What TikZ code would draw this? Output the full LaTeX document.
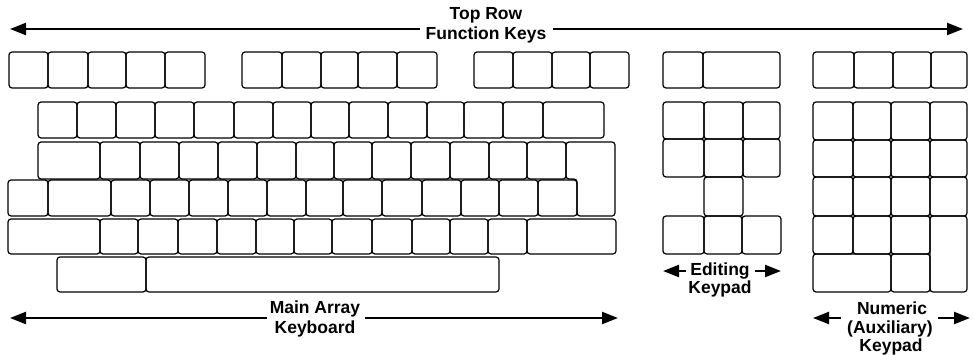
\documentclass[tikz,border=0pt]{standalone}
\usepackage{fontspec}
\setmainfont{Liberation Sans}
\usetikzlibrary{arrows.meta}
\tikzset{
  key/.style={draw, line width=1.2pt, rounded corners=3pt},
  lbl/.style={font=\bfseries\fontsize{17.5}{20}\selectfont, anchor=base, inner sep=0pt},
  arr/.style={line width=2.2pt, -{Triangle[length=16pt,width=12pt]}}
}
\begin{document}
\begin{tikzpicture}[x=1pt,y=-1pt]
\useasboundingbox (0,0) rectangle (973,355);
% ---------- top row function keys ----------
\foreach \a/\b in {9/48,48/88,88/126,126/165,165/205,
                   242/282,282/321,321/358,358/397,397/437,
                   474/513,513/552,552/590,590/629,
                   663/703,703/780,
                   813/854,854/893,893/931,931/967}
  \draw[key] (\a,52) rectangle (\b,88);
% ---------- main array ----------
\foreach \a/\b in {38/77,77/116,116/155,155/194,194/234,234/273,273/311,311/349,349/388,388/427,427/464,464/503,503/543,543/604}
  \draw[key] (\a,102) rectangle (\b,138);
\foreach \a/\b in {38/100,100/140,140/179,179/218,218/257,257/296,296/334,334/372,372/411,411/450,450/489,489/527,527/566}
  \draw[key] (\a,142) rectangle (\b,179);
\draw[key] (566,142) -- (615,142) -- (615,216) -- (577,216) -- (577,179) -- (566,179) -- cycle;
\foreach \a/\b in {8/48,48/111,111/150,150/189,189/228,228/267,267/306,306/343,343/382,382/422,422/461,461/499,499/538,538/577}
  \draw[key] (\a,180) rectangle (\b,216);
\foreach \a/\b in {8/100,100/138,138/178,178/217,217/256,256/294,294/332,332/372,372/412,412/450,450/488,488/527,527/616}
  \draw[key] (\a,219) rectangle (\b,254);
\foreach \a/\b in {57/146,146/499}
  \draw[key] (\a,257) rectangle (\b,292);
% ---------- editing keypad ----------
\foreach \y/\z in {102/139,139/177}
  \foreach \a/\b in {663/704,704/743,743/780}
    \draw[key] (\a,\y) rectangle (\b,\z);
\draw[key] (704,177) rectangle (743,216);
\foreach \a/\b in {663/704,704/742,742/781}
  \draw[key] (\a,216) rectangle (\b,254);
% ---------- numeric keypad ----------
\foreach \y/\z in {102/140,140/177,177/216}
  \foreach \a/\b in {813/853,853/891,891/930,930/967}
    \draw[key] (\a,\y) rectangle (\b,\z);
\foreach \a/\b in {813/853,853/891,891/930}
  \draw[key] (\a,216) rectangle (\b,254);
\draw[key] (930,216) rectangle (967,292);
\foreach \a/\b in {813/891,891/930}
  \draw[key] (\a,254) rectangle (\b,292);
% ---------- labels ----------
\node[lbl] (top1) at (486,20) {Top Row};
\node[lbl] (top2) at (486,40) {Function Keys};
\node[lbl] (main1) at (315,313) {Main Array};
\node[lbl] (main2) at (315,333) {Keyboard};
\node[lbl] (ed1) at (720,275) {Editing};
\node[lbl] (ed2) at (720,293) {Keypad};
\node[lbl] (num1) at (892,314) {Numeric};
\node[lbl] (num2) at (890,333) {(Auxiliary)};
\node[lbl] (num3) at (891,351) {Keypad};
% ---------- arrows ----------
\coordinate (tls) at (420,29); \coordinate (tle) at (10,29);
\coordinate (trs) at (553,29); \coordinate (tre) at (963,29);
\coordinate (mls) at (267,318); \coordinate (mle) at (10,318);
\coordinate (mrs) at (365,318); \coordinate (mre) at (618,318);
\coordinate (els) at (686,271); \coordinate (ele) at (663,271);
\coordinate (ers) at (755,271); \coordinate (ere) at (781,271);
\coordinate (nls) at (841,318); \coordinate (nle) at (813,318);
\coordinate (nrs) at (938,318); \coordinate (nre) at (970,318);
\draw[arr] (tls) -- (tle);
\draw[arr] (trs) -- (tre);
\draw[arr] (mls) -- (mle);
\draw[arr] (mrs) -- (mre);
\draw[arr] (els) -- (ele);
\draw[arr] (ers) -- (ere);
\draw[arr] (nls) -- (nle);
\draw[arr] (nrs) -- (nre);
\end{tikzpicture}
\end{document}
